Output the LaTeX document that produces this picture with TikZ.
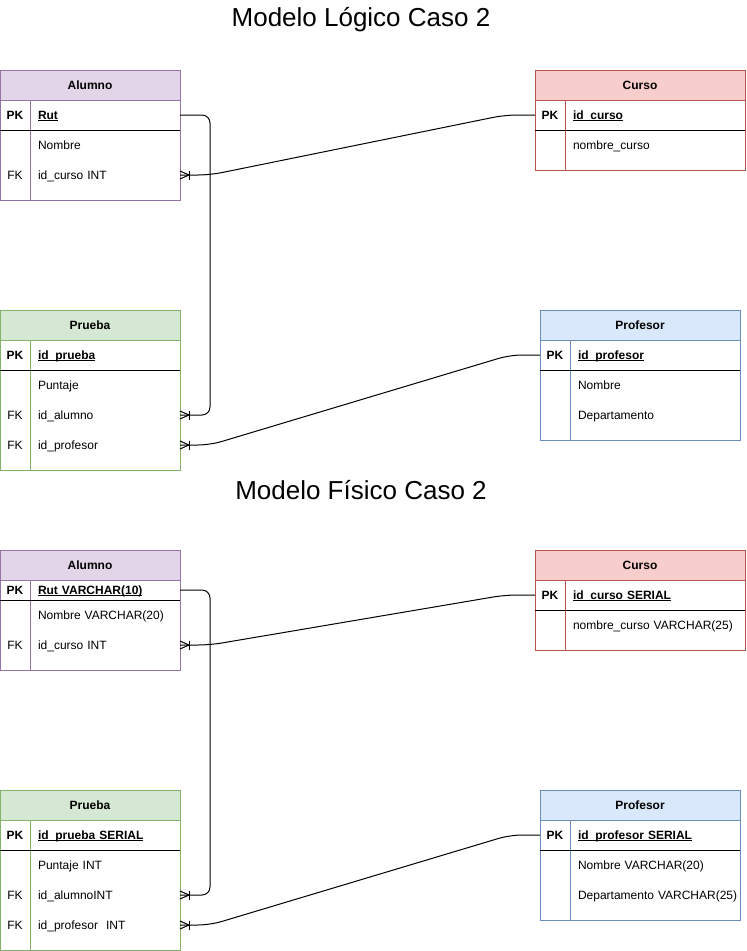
\documentclass[tikz,border=0pt]{standalone}
\usepackage{fontspec}
\setmainfont{Liberation Sans}
\usetikzlibrary{calc}

\definecolor{alfill}{HTML}{E1D5E7}\definecolor{alline}{HTML}{9673A6}
\definecolor{cufill}{HTML}{F8CECC}\definecolor{culine}{HTML}{B85450}
\definecolor{prfill}{HTML}{D5E8D4}\definecolor{prline}{HTML}{82B366}
\definecolor{pffill}{HTML}{DAE8FC}\definecolor{pfline}{HTML}{6C8EBF}

% underlined primary-key name
\newcommand{\keyname}[1]{\setbox0\hbox{#1}\rlap{\vrule width\wd0 height -1.2pt depth 2.0pt}\box0}

% entity frame: name, x, y, width, key-row height, body height, fill, stroke, title
\newcommand{\ertable}[9]{%
  \node[hdr, fill=#7, draw=#8, minimum width=#4, anchor=north west] (#1) at (#2,#3) {#9};
  \draw[draw=#8, line width=1pt] ({#2},{#3+30}) rectangle ++(#4,#6);
  \draw[draw=#8, line width=1pt] ({#2+30},{#3+30}) -- ++(0,#6);
  \draw[black, line width=1pt] ({#2},{#3+30+#5}) -- ++(#4,0);
  \node[cell, font=\bfseries\fontsize{12}{14}\selectfont] (#1-pk) at ({#2+15},{#3+30+#5/2}) {PK};
}

% crow's foot (one-to-many) at a table edge
\newcommand{\crowfoot}[1]{%
  \draw[rel] (#1) ++(0,-4) -- ++(9,4) -- ++(-9,4);
  \draw[rel] (#1) ++(9,-4.5) -- ++(0,9);
}

\begin{document}
\begin{tikzpicture}[x=1pt, y=-1pt,
  every node/.style={font=\fontsize{12}{14}\selectfont, outer sep=0pt},
  hdr/.style={minimum height=30, inner sep=0pt, line width=1pt,
    font=\bfseries\fontsize{12}{14}\selectfont},
  cell/.style={minimum width=30, minimum height=20, inner sep=0pt,
    text height=10pt, text depth=1.5pt},
  field/.style={anchor=west, inner xsep=8pt, inner ysep=0pt, text height=10pt,
    text depth=1.5pt, align=left, text width=#1},
  pkfield/.style={field=#1, font=\bfseries\fontsize{12}{14}\selectfont},
  rel/.style={draw=black, line width=1pt},
  title/.style={font=\fontsize{26}{31}\selectfont}]

\useasboundingbox (0,0) rectangle (747,951);

% ---------------- logical model ----------------
\node[title] (t1) at (361,20) {Modelo Lógico Caso 2};

\ertable{la}{0}{70}{180}{30}{100}{alfill}{alline}{Alumno}
\node[pkfield=134pt] (la-rut) at (30,115) {\keyname{Rut}};
\node[field=134pt] (la-nom) at (30,145) {Nombre};
\node[cell] (la-fk) at (15,175) {FK};
\node[field=134pt] (la-cur) at (30,175) {id\_curso INT};

\ertable{lc}{535}{70}{210}{30}{70}{cufill}{culine}{Curso}
\node[pkfield=164pt] (lc-id) at (565,115) {\keyname{id\_curso}};
\node[field=164pt] (lc-nom) at (565,145) {nombre\_curso};

\ertable{lp}{0}{310}{180}{30}{130}{prfill}{prline}{Prueba}
\node[pkfield=134pt] (lp-id) at (30,355) {\keyname{id\_prueba}};
\node[field=134pt] (lp-pun) at (30,385) {Puntaje};
\node[cell] (lp-fk1) at (15,415) {FK};
\node[field=134pt] (lp-al) at (30,415) {id\_alumno};
\node[cell] (lp-fk2) at (15,445) {FK};
\node[field=134pt] (lp-pf) at (30,445) {id\_profesor};

\ertable{lf}{540}{310}{200}{30}{100}{pffill}{pfline}{Profesor}
\node[pkfield=154pt] (lf-id) at (570,355) {\keyname{id\_profesor}};
\node[field=154pt] (lf-nom) at (570,385) {Nombre};
\node[field=154pt] (lf-dep) at (570,415) {Departamento};

\draw[rel, rounded corners=8pt] (la-rut.east) -- ++(30,0) |- (lp-al.east);
\crowfoot{lp-al.east}
\draw[rel, rounded corners=12pt] (la-cur.east) -- ++(30,0) -- ($(lc-pk.west)+(-30,0)$) -- (lc-pk.west);
\crowfoot{la-cur.east}
\draw[rel, rounded corners=12pt] (lp-pf.east) -- ++(30,0) -- ($(lf-pk.west)+(-30,0)$) -- (lf-pk.west);
\crowfoot{lp-pf.east}

% ---------------- physical model ----------------
\node[title] (t2) at (361,490) {Modelo Físico Caso 2};

\ertable{pa}{0}{550}{180}{20}{90}{alfill}{alline}{Alumno}
\node[pkfield=134pt] (pa-rut) at (30,590) {\keyname{Rut VARCHAR(10)}};
\node[field=134pt] (pa-nom) at (30,615) {\mbox{Nombre VARCHAR(20)}};
\node[cell] (pa-fk) at (15,645) {FK};
\node[field=134pt] (pa-cur) at (30,645) {id\_curso INT};

\ertable{pc}{535}{550}{210}{30}{70}{cufill}{culine}{Curso}
\node[pkfield=164pt] (pc-id) at (565,595) {\keyname{id\_curso SERIAL}};
\node[field=164pt] (pc-nom) at (565,625) {\mbox{nombre\_curso VARCHAR(25)}};

\ertable{pp}{0}{790}{180}{30}{130}{prfill}{prline}{Prueba}
\node[pkfield=134pt] (pp-id) at (30,835) {\keyname{id\_prueba SERIAL}};
\node[field=134pt] (pp-pun) at (30,865) {Puntaje INT};
\node[cell] (pp-fk1) at (15,895) {FK};
\node[field=134pt] (pp-al) at (30,895) {id\_alumnoINT};
\node[cell] (pp-fk2) at (15,925) {FK};
\node[field=134pt] (pp-pf) at (30,925) {\mbox{id\_profesor~ INT}};

\ertable{pf}{540}{790}{200}{30}{100}{pffill}{pfline}{Profesor}
\node[pkfield=154pt] (pf-id) at (570,835) {\keyname{id\_profesor SERIAL}};
\node[field=154pt] (pf-nom) at (570,865) {\mbox{Nombre VARCHAR(20)}};
\node[field=154pt] (pf-dep) at (570,895) {\mbox{Departamento VARCHAR(25)}};

\draw[rel, rounded corners=8pt] (pa-rut.east) -- ++(30,0) |- (pp-al.east);
\crowfoot{pp-al.east}
\draw[rel, rounded corners=12pt] (pa-cur.east) -- ++(30,0) -- ($(pc-pk.west)+(-30,0)$) -- (pc-pk.west);
\crowfoot{pa-cur.east}
\draw[rel, rounded corners=12pt] (pp-pf.east) -- ++(30,0) -- ($(pf-pk.west)+(-30,0)$) -- (pf-pk.west);
\crowfoot{pp-pf.east}

\end{tikzpicture}
\end{document}
